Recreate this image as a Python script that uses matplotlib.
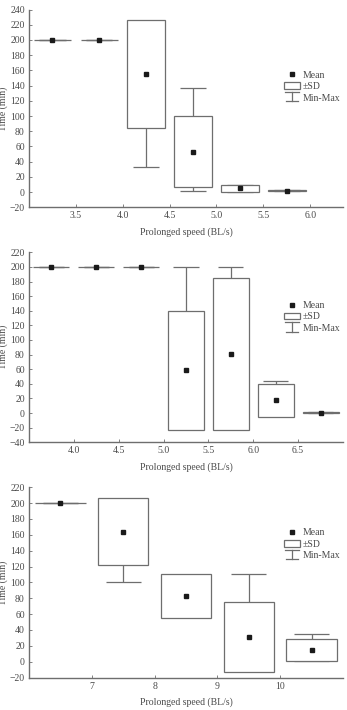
import matplotlib
matplotlib.use("Agg")
import matplotlib.pyplot as plt
import numpy as np
from matplotlib.legend_handler import HandlerBase
from matplotlib.lines import Line2D
from matplotlib.patches import Rectangle

plt.rcParams['font.family'] = ['Liberation Serif', 'DejaVu Serif']

# Panel 1
centers1 = [3.25, 3.75, 4.25, 4.75, 5.25, 5.75]
mean1 = [200, 200, 155.5, 53.3, 4.8, 2.0]
sd1 = [0, 0, 71.0, 47.0, 4.4, 1.0]
min1 = [200, 200, 33, 2, 0, 1]
max1 = [200, 200, 200, 137, 9, 3]
ticks1 = [3.5, 4.0, 4.5, 5.0, 5.5, 6.0]

# Panel 2
centers2 = [3.75, 4.25, 4.75, 5.25, 5.75, 6.25, 6.75]
mean2 = [200, 200, 200, 58.5, 81.1, 17.5, 0.6]
sd2 = [0, 0, 0, 81.3, 104.3, 22.5, 0.8]
min2 = [200, 200, 200, 0, 0, 0, 0]
max2 = [200, 200, 200, 200, 200, 43.7, 1.5]
ticks2 = [4.0, 4.5, 5.0, 5.5, 6.0, 6.5]

# Panel 3
centers3 = [6.5, 7.5, 8.5, 9.5, 10.5]
mean3 = [200, 164, 83, 30.6, 14.5]
sd3 = [0, 42.6, 27.5, 44.2, 13.6]
min3 = [200, 100, 60, 0, 1]
max3 = [200, 200, 108, 110.7, 35.2]
ticks3 = [7, 8, 9, 10]

GRAY = '#6e6e6e'
TXT = '#4a4a4a'


class MinMaxHandler(HandlerBase):
    def create_artists(self, legend, orig_handle, xd, yd, width, height, fontsize, trans):
        cx = xd + width / 2
        top = yd + height * 1.25
        bot = yd - height * 0.1
        a = Line2D([xd + width * 0.05, xd + width * 0.95], [top, top], color=GRAY, lw=0.9, transform=trans)
        b = Line2D([cx, cx], [top, bot], color=GRAY, lw=0.9, transform=trans)
        c = Line2D([xd + width * 0.1, xd + width * 0.9], [bot, bot], color=GRAY, lw=0.9, transform=trans)
        return [a, b, c]


def panel(ax, centers, mean, sd, mn, mx, ticks, xlim, ylim, yticks, step, legy):
    c = np.array(centers, float)
    m = np.array(mean, float)
    s = np.array(sd, float)
    w = 0.8 * step
    cw = 0.56 * step
    ax.vlines(c, mn, mx, color=GRAY, lw=0.9, zorder=1)
    ax.hlines(mn, c - cw / 2, c + cw / 2, color=GRAY, lw=0.9, zorder=1)
    ax.hlines(mx, c - cw / 2, c + cw / 2, color=GRAY, lw=0.9, zorder=1)
    ax.bar(c, 2 * s, bottom=m - s, width=w, facecolor='white', edgecolor=GRAY, lw=0.9, zorder=2)
    ax.plot(c, m, 's', color='#1a1a1a', ms=2.8, zorder=3, ls='none')
    ax.set_xlim(*xlim)
    ax.set_ylim(*ylim)
    ax.set_xticks(ticks)
    ax.set_xticklabels([f"{t:.1f}" if isinstance(t, float) else str(t) for t in ticks])
    ax.set_yticks(yticks)
    for sp in ['top', 'right']:
        ax.spines[sp].set_visible(False)
    for sp in ['left', 'bottom']:
        ax.spines[sp].set_color(GRAY)
        ax.spines[sp].set_linewidth(1.0)
    ax.tick_params(direction='in', length=2, width=0.6, color=GRAY, labelcolor=TXT, labelsize=7, pad=3)
    ax.set_xlabel("Prolonged speed (BL/s)", fontsize=7, color=TXT, labelpad=5)
    ax.set_ylabel("Time (min)", fontsize=7, color=TXT)
    ax.yaxis.set_label_coords(-0.066, 0.5)
    handles = [
        Line2D([], [], marker='s', color='#1a1a1a', ms=2.8, ls='none'),
        Rectangle((0, 0), 1, 1, facecolor='white', edgecolor=GRAY, lw=0.9),
        'minmax',
    ]
    leg = ax.legend(handles, ["Mean", "±SD", "Min-Max"], handler_map={str: MinMaxHandler()},
                    loc='center left', bbox_to_anchor=(0.8, legy), frameon=False,
                    fontsize=7, handlelength=1.6, handletextpad=0.3, labelspacing=0.25,
                    borderaxespad=0)
    for t in leg.get_texts():
        t.set_color(TXT)


fig = plt.figure(figsize=(3.47, 7.10), dpi=100)
W, H = 347, 710

def add_axes(top, bottom):
    return fig.add_axes([29 / W, 1 - bottom / H, (343 - 29) / W, (bottom - top) / H])

ax1 = add_axes(9.5, 207.3)
panel(ax1, centers1, mean1, sd1, min1, max1, ticks1, (3.0, 6.35), (-20, 240),
      np.arange(-20, 241, 20), 0.5, 0.61)
ax2 = add_axes(252.3, 442.3)
panel(ax2, centers2, mean2, sd2, min2, max2, ticks2, (3.5, 7.0), (-40, 220),
      np.arange(-40, 221, 20), 0.5, 0.66)
ax3 = add_axes(487.3, 677.5)
panel(ax3, centers3, mean3, sd3, min3, max3, ticks3, (6.0, 11.0), (-20, 220),
      np.arange(-20, 221, 20), 1.0, 0.70)

fig.savefig("out.png", dpi=100)
